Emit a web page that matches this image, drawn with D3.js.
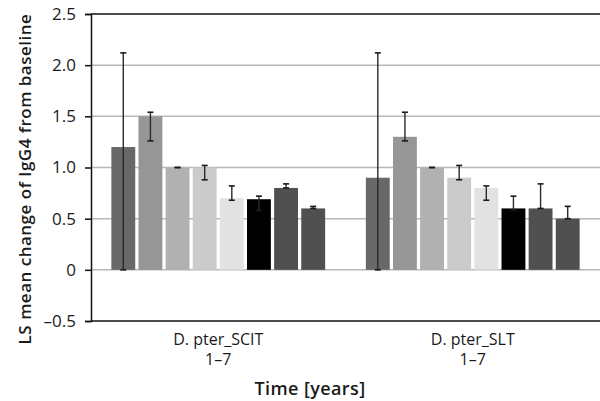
<!DOCTYPE html>
<html>
<head>
<meta charset="utf-8">
<script src="https://cdn.jsdelivr.net/npm/d3@7"></script>
<style>
  body { margin: 0; background: #fff; }
  text { font-family: "Open Sans", "DejaVu Sans", sans-serif; fill: #1a1a1a; }
</style>
</head>
<body>
<svg id="chart"></svg>
<script>
// canvas
var width = 600,
    height = 401,
    margin = {top: 14, right: 0, bottom: 80, left: 91};

// data
var groups = ["D. pter_SCIT", "D. pter_SLT"];
var groupSub = ["1–7", "1–7"];
var series = ["s1", "s2", "s3", "s4", "s5", "s6", "s7", "s8"];
var colors = ["#686868", "#969696", "#b1b1b1", "#cbcbcb", "#e2e2e2", "#000000", "#505050", "#505050"];
var scitValues = [1.2, 1.5, 1.0, 1.0, 0.7, 0.69, 0.8, 0.6];
var sltValues  = [0.9, 1.3, 1.0, 0.9, 0.8, 0.6, 0.6, 0.5];
var scitLow  = [0.0, 1.26, 1.0, 0.88, 0.68, 0.58, 0.8, 0.6];
var scitHigh = [2.12, 1.54, 1.0, 1.02, 0.82, 0.72, 0.84, 0.62];
var sltLow   = [0.0, 1.26, 1.0, 0.88, 0.68, 0.58, 0.6, 0.5];
var sltHigh  = [2.12, 1.54, 1.0, 1.02, 0.82, 0.72, 0.84, 0.62];
var yTicks = [-0.5, 0, 0.5, 1.0, 1.5, 2.0, 2.5];
var yTickLabels = ["–0.5", "0", "0.5", "1.0", "1.5", "2.0", "2.5"];

var values = [scitValues, sltValues],
    lows = [scitLow, sltLow],
    highs = [scitHigh, sltHigh];

var svg = d3.select("#chart")
    .attr("width", width)
    .attr("height", height);

var y = d3.scaleLinear()
    .domain([-0.5, 2.5])
    .range([height - margin.bottom, margin.top]);

var x0 = d3.scaleBand()
    .domain(groups)
    .range([margin.left, width - margin.right])
    .paddingInner(0.16)
    .paddingOuter(0.08);

var x1 = d3.scaleBand()
    .domain(series)
    .range([0, x0.bandwidth()])
    .paddingInner(0.12);

// gridlines
svg.append("g")
  .selectAll("line")
  .data(yTicks.filter(function(d) { return d >= 0 && d <= 2.0; }))
  .enter().append("line")
    .attr("x1", margin.left)
    .attr("x2", width - margin.right)
    .attr("y1", function(d) { return y(d); })
    .attr("y2", function(d) { return y(d); })
    .style("stroke", "#b8b8b8")
    .style("stroke-width", "1.5px");

// top and bottom frame lines
svg.append("g")
  .selectAll("line")
  .data([2.5, -0.5])
  .enter().append("line")
    .attr("x1", margin.left)
    .attr("x2", width - margin.right)
    .attr("y1", function(d) { return y(d); })
    .attr("y2", function(d) { return y(d); })
    .style("stroke", "#111")
    .style("stroke-width", "1.5px");

// bars
var g = svg.selectAll(".grp")
    .data(groups)
    .enter().append("g")
    .attr("class", "grp")
    .attr("transform", function(d) { return "translate(" + x0(d) + ",0)"; });

g.selectAll("rect")
  .data(function(d, gi) {
    return series.map(function(s, i) {
      return {s: s, i: i, v: values[gi][i]};
    });
  })
  .enter().append("rect")
    .attr("x", function(d) { return x1(d.s); })
    .attr("width", x1.bandwidth())
    .attr("y", function(d) { return y(Math.max(0, d.v)); })
    .attr("height", function(d) { return Math.abs(y(d.v) - y(0)); })
    .style("fill", function(d) { return colors[d.i]; });

// error bars
var eb = g.selectAll(".err")
  .data(function(d, gi) {
    return series.map(function(s, i) {
      return {s: s, i: i, lo: lows[gi][i], hi: highs[gi][i]};
    });
  })
  .enter().append("g")
    .attr("class", "err")
    .attr("transform", function(d) { return "translate(" + (x1(d.s) + x1.bandwidth() / 2) + ",0)"; });

eb.append("line")
    .attr("y1", function(d) { return y(d.lo); })
    .attr("y2", function(d) { return y(d.hi); })
    .style("stroke", "#2a2a2a")
    .style("stroke-width", "1.4px");

eb.selectAll(".cap")
  .data(function(d) { return [d.lo, d.hi]; })
  .enter().append("line")
    .attr("class", "cap")
    .attr("x1", -3)
    .attr("x2", 3)
    .attr("y1", function(d) { return y(d); })
    .attr("y2", function(d) { return y(d); })
    .style("stroke", "#1a1a1a")
    .style("stroke-width", "1.6px");

// y axis
var yAxis = svg.append("g")
    .attr("transform", "translate(" + margin.left + ",0)")
    .call(d3.axisLeft(y)
      .tickValues(yTicks)
      .tickSize(6)
      .tickPadding(9)
      .tickFormat(function(d, i) { return yTickLabels[i]; }));

yAxis.select(".domain").style("stroke", "#111").style("stroke-width", "1.5px");
yAxis.selectAll(".tick line").style("stroke", "#111").style("stroke-width", "1.5px");
yAxis.selectAll(".tick text")
    .style("font-size", "17px")
    .style("font-family", "'Open Sans', sans-serif")
    .style("fill", "#1a1a1a");

// category labels
var lab = svg.append("g")
  .selectAll("text")
  .data(groups)
  .enter().append("text")
    .style("text-anchor", "middle")
    .style("font-size", "16px")
    .attr("x", function(d) { return x0(d) + x0.bandwidth() / 2; })
    .attr("y", 345);

lab.append("tspan")
    .text(function(d) { return d; });
lab.append("tspan")
    .attr("x", function(d) { return x0(d) + x0.bandwidth() / 2; })
    .attr("dy", 20)
    .text(function(d, i) { return groupSub[i]; });

// axis titles
svg.append("text")
    .style("text-anchor", "middle")
    .style("font-size", "18px")
    .style("font-weight", "600")
    .style("letter-spacing", "0.4px")
    .attr("x", 310)
    .attr("y", 395)
    .text("Time [years]");

svg.append("text")
    .style("text-anchor", "middle")
    .style("font-size", "17px")
    .style("font-weight", "600")
    .style("letter-spacing", "0.5px")
    .attr("transform", "translate(31,179) rotate(-90)")
    .text("LS mean change of IgG4 from baseline");
</script>
</body>
</html>
